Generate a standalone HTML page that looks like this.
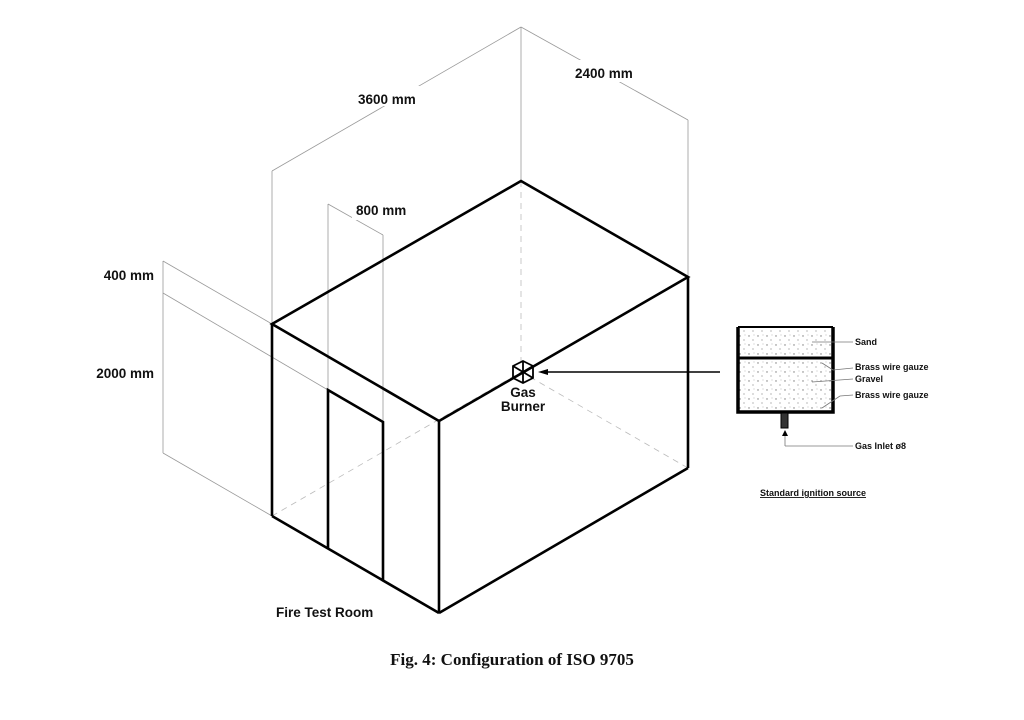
<!DOCTYPE html>
<html><head><meta charset="utf-8"><style>
html,body{margin:0;padding:0;background:#fff;}
svg{display:block;}
.t{font-family:"Liberation Sans",sans-serif;font-weight:bold;fill:#111;}
</style></head><body>
<svg width="1024" height="720" viewBox="0 0 1024 720" xmlns="http://www.w3.org/2000/svg">
<defs>
<pattern id="dots" width="9" height="9" patternUnits="userSpaceOnUse">
<circle cx="2" cy="3" r="0.7" fill="#777"/><circle cx="6" cy="7" r="0.6" fill="#888"/><circle cx="7" cy="2" r="0.5" fill="#aaa"/>
</pattern>
</defs>
<g stroke="#999" stroke-width="0.8" fill="none">
<line x1="272" y1="171" x2="272" y2="324"/>
<line x1="521" y1="27" x2="521" y2="181"/>
<line x1="688" y1="120" x2="688" y2="277"/>
<line x1="272" y1="171" x2="521" y2="27"/>
<line x1="521" y1="27" x2="688" y2="120"/>
<line x1="328" y1="204" x2="328" y2="390"/>
<line x1="383" y1="235" x2="383" y2="422"/>
<line x1="328" y1="204" x2="383" y2="235"/>
<line x1="163" y1="261" x2="163" y2="453"/>
<line x1="163" y1="261" x2="272" y2="324"/>
<line x1="163" y1="293" x2="328" y2="390"/>
<line x1="163" y1="453" x2="272" y2="516"/>
</g>
<!-- gaps behind labels -->
<g fill="#fff">
<rect x="355" y="86" width="82" height="20"/>
<rect x="572" y="60" width="82" height="22"/>
<rect x="352" y="200" width="70" height="20"/>
</g>
<g stroke="#bbb" stroke-width="0.8" fill="none" stroke-dasharray="6,5">
<line x1="521" y1="181" x2="521" y2="365"/>
<line x1="272" y1="516" x2="521" y2="372"/>
<line x1="530" y1="377" x2="688" y2="468"/>
</g>
<g stroke="#000" stroke-width="2.6" fill="none" stroke-linejoin="miter">
<polygon points="272,324 521,181 688,277 439,421"/>
<line x1="272" y1="324" x2="272" y2="516"/>
<line x1="439" y1="421" x2="439" y2="613"/>
<line x1="688" y1="277" x2="688" y2="468"/>
<line x1="272" y1="516" x2="439" y2="613"/>
<line x1="439" y1="613" x2="688" y2="468"/>
<polyline points="328,549 328,390 383,422 383,580"/>
</g>
<g stroke="#000" stroke-width="1.8" fill="none">
<polygon points="523,361 533,366 533,378 523,383 513,378 513,366"/>
<line x1="523" y1="372" x2="523" y2="361"/><line x1="523" y1="372" x2="513" y2="378"/><line x1="523" y1="372" x2="533" y2="378"/>
<line x1="523" y1="372" x2="513" y2="366"/><line x1="523" y1="372" x2="533" y2="366"/><line x1="523" y1="372" x2="523" y2="383"/>
</g>
<line x1="545" y1="372" x2="720" y2="372" stroke="#000" stroke-width="1.5"/>
<polygon points="538,372 548,369 548,375" fill="#000"/>
<text class="t" x="523" y="397" font-size="13.5" text-anchor="middle">Gas</text>
<text class="t" x="523" y="411" font-size="13.5" text-anchor="middle">Burner</text>
<rect x="738" y="328" width="95" height="30" fill="url(#dots)"/>
<rect x="738" y="360" width="95" height="52" fill="url(#dots)"/>
<g stroke="#000" fill="none">
<polyline points="738,327 738,412 833,412 833,327" stroke-width="3.5"/>
<line x1="738" y1="327" x2="833" y2="327" stroke-width="2"/>
<line x1="738" y1="358" x2="833" y2="358" stroke-width="3"/>
</g>
<rect x="781" y="413" width="7" height="15" fill="#333" stroke="#000" stroke-width="1"/>
<g stroke="#777" stroke-width="0.8" fill="none">
<line x1="812" y1="342" x2="853" y2="342"/>
<line x1="822" y1="363" x2="833" y2="370"/><line x1="833" y1="370" x2="853" y2="368"/>
<line x1="812" y1="382" x2="853" y2="379"/>
<line x1="822" y1="408" x2="840" y2="396"/><line x1="840" y1="396" x2="853" y2="395"/>
<line x1="785" y1="434" x2="785" y2="446"/><line x1="785" y1="446" x2="853" y2="446"/>
</g>
<polygon points="785,430 782,436 788,436" fill="#000"/>
<g class="t" font-size="9">
<text x="855" y="345">Sand</text>
<text x="855" y="370">Brass wire gauze</text>
<text x="855" y="382">Gravel</text>
<text x="855" y="398">Brass wire gauze</text>
<text x="855" y="449">Gas Inlet ø8</text>
<text x="760" y="496" text-decoration="underline">Standard ignition source</text>
</g>
<g class="t" font-size="13.5">
<text x="358" y="104">3600 mm</text>
<text x="575" y="78">2400 mm</text>
<text x="356" y="215">800 mm</text>
<text x="154" y="280" text-anchor="end">400 mm</text>
<text x="154" y="378" text-anchor="end">2000 mm</text>
<text x="276" y="617">Fire Test Room</text>
</g>
<text x="512" y="665" font-family="Liberation Serif,serif" font-weight="bold" font-size="17" text-anchor="middle" fill="#111">Fig. 4: Configuration of ISO 9705</text>
</svg>
</body></html>
